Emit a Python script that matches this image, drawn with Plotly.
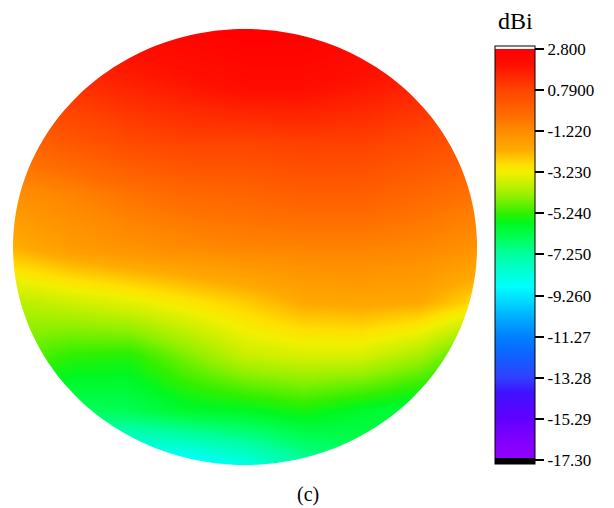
import numpy as np
import plotly.graph_objects as go

# ---------------- data ----------------
# normalised grid positions across the disc (left->right, bottom->top)
grid_u = [-1.0, -0.75, -0.5, -0.25, 0.0, 0.25, 0.5, 0.75, 1.0]
grid_v = [-1.0, -0.75, -0.5, -0.25, 0.0, 0.25, 0.5, 0.75, 1.0]

# gain in dBi at each grid node, rows from bottom (v=-1) to top (v=1)
gain_row_vm100 = [-8.0, -8.8, -9.3, -9.2, -8.4, -7.4, -6.6, -6.2, -6.2]
gain_row_vm075 = [-6.0, -6.5, -6.4, -5.9, -5.8, -5.5, -5.9, -6.2, -6.5]
gain_row_vm050 = [-4.8, -5.3, -5.4, -4.6, -3.8, -3.6, -3.6, -4.2, -5.4]
gain_row_vm025 = [-4.0, -3.7, -3.4, -3.0, -2.6, -2.1, -2.0, -2.1, -2.8]
gain_row_v000 = [-2.2, -1.7, -1.4, -1.2, -1.05, -1.0, -1.0, -1.1, -1.4]
gain_row_vp025 = [-1.3, -1.0, -0.6, -0.3, -0.2, 0.0, 0.0, -0.3, -0.6]
gain_row_vp050 = [-0.2, 0.3, 0.7, 0.9, 0.9, 1.0, 0.95, 0.7, 0.3]
gain_row_vp075 = [1.0, 1.3, 1.6, 1.9, 2.2, 2.2, 1.9, 1.6, 1.3]
gain_row_vp100 = [1.6, 2.0, 2.4, 2.6, 2.8, 2.8, 2.6, 2.3, 1.9]

# colour bar
tick_values = [2.8, 0.79, -1.22, -3.23, -5.24, -7.25, -9.26, -11.27, -13.28, -15.29, -17.30]
tick_labels = ["2.800", "0.7900", "-1.220", "-3.230", "-5.240", "-7.250",
               "-9.260", "-11.27", "-13.28", "-15.29", "-17.30"]
scale_min = -17.50
scale_max = 2.95
scale_values = [-17.50, -17.20, -17.20, -16.32, -15.29, -14.04, -13.28, -12.25,
                -11.27, -10.29, -9.26, -8.82, -8.17, -7.25, -6.54, -5.72,
                -5.24, -4.42, -3.77, -3.23, -2.87, -2.14, -1.22, -0.51,
                0.79, 2.0, 2.8, 2.8, 2.95]
scale_colors = ["#000000", "#000000", "#9000ff", "#8000ff", "#6000ff", "#4010ff",
                "#3040ff", "#1060ff", "#0080ff", "#00b0ff", "#00e8ff", "#00ffff",
                "#00ffd8", "#00ffa0", "#00ff60", "#00f820", "#30f000", "#90f000",
                "#c8f000", "#f0f000", "#ffe000", "#ffaa00", "#ff8c00", "#ff6e00",
                "#ff4400", "#ff1000", "#ff0000", "#ffffff", "#ffffff"]

unit_label = "dBi"
panel_label = "(c)"

# ---------------- figure ----------------
z = [gain_row_vm100, gain_row_vm075, gain_row_vm050, gain_row_vm025, gain_row_v000,
     gain_row_vp025, gain_row_vp050, gain_row_vp075, gain_row_vp100]

span = scale_max - scale_min
colorscale = [[(v - scale_min) / span, c] for v, c in zip(scale_values, scale_colors)]
colorscale[0][0] = 0.0
colorscale[-1][0] = 1.0

W, H = 614, 508
ml, mr, mt, mb = 13, 137, 29, 43
pw = W - ml - mr
ph = H - mt - mb


def px_to_paper_x(px):
    return (px - ml) / pw


def px_to_paper_y(py):
    return (H - mb - py) / ph


fig = go.Figure()
fig.add_trace(go.Heatmap(
    x=grid_u, y=grid_v, z=z,
    zsmooth="best",
    colorscale=colorscale, zmin=scale_min, zmax=scale_max,
    hoverinfo="skip",
    colorbar=dict(
        thickness=40, thicknessmode="pixels",
        len=(464 - 46) / ph, lenmode="fraction",
        x=px_to_paper_x(495), xanchor="left", xpad=0,
        y=px_to_paper_y(46), yanchor="top", ypad=0,
        outlinewidth=1, outlinecolor="black",
        tickmode="array", tickvals=tick_values, ticktext=tick_labels,
        ticks="outside", ticklen=9, tickwidth=2, tickcolor="black",
        tickfont=dict(family="Liberation Serif", size=17, color="black"),
    ),
))

# white mask outside the elliptical disc
theta = np.linspace(0, 2 * np.pi, 241)
ex = np.cos(theta)
ey = np.sin(theta)
path = "M -1.2,-1.2 L 1.2,-1.2 L 1.2,1.2 L -1.2,1.2 Z "
path += "M " + " L ".join(f"{a:.4f},{b:.4f}" for a, b in zip(ex, ey)) + " Z"
fig.add_shape(type="path", path=path, xref="x", yref="y",
              fillcolor="white", line=dict(width=0), fillrule="evenodd", layer="above")

fig.add_annotation(text=unit_label, xref="paper", yref="paper",
                   x=px_to_paper_x(515), y=px_to_paper_y(21),
                   xanchor="center", yanchor="middle", showarrow=False,
                   font=dict(family="Liberation Serif", size=24, color="black"))
fig.add_annotation(text=panel_label, xref="paper", yref="paper",
                   x=px_to_paper_x(308), y=px_to_paper_y(495),
                   xanchor="center", yanchor="middle", showarrow=False,
                   font=dict(family="Liberation Serif", size=20, color="black"))

fig.update_xaxes(visible=False, range=[-1, 1], showgrid=False, zeroline=False)
fig.update_yaxes(visible=False, range=[-1, 1], showgrid=False, zeroline=False)
fig.update_layout(
    width=W, height=H,
    margin=dict(l=ml, r=mr, t=mt, b=mb, pad=0),
    paper_bgcolor="white", plot_bgcolor="white",
    showlegend=False,
)

fig.write_html("out.html",
               config={"displayModeBar": False},
               post_script="document.body.style.margin='0';document.body.style.overflow='hidden';")
